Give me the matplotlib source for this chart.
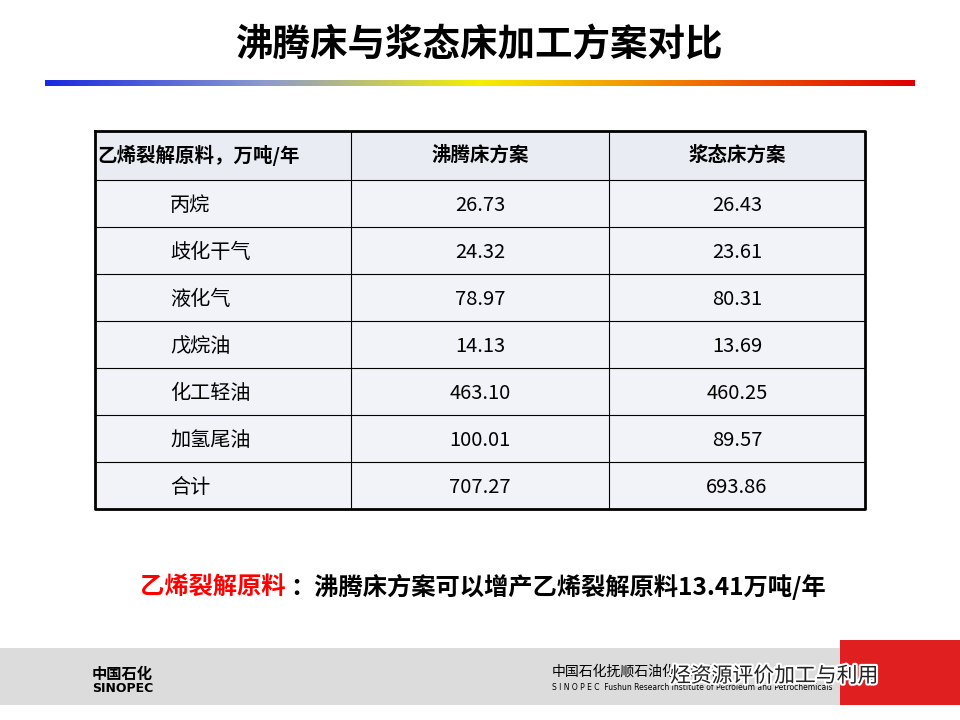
import matplotlib
matplotlib.use("Agg")
import matplotlib.pyplot as plt
import numpy as np
from matplotlib.patches import Rectangle
import matplotlib.patheffects as pe
from matplotlib.colors import LinearSegmentedColormap

plt.rcParams['font.family'] = ['Noto Sans CJK SC', 'DejaVu Sans']

title = "沸腾床与浆态床加工方案对比"
headers = ["乙烯裂解原料，万吨/年", "沸腾床方案", "浆态床方案"]
items = ["丙烷", "歧化干气", "液化气", "戊烷油", "化工轻油", "加氢尾油", "合计"]
boiling = ["26.73", "24.32", "78.97", "14.13", "463.10", "100.01", "707.27"]
slurry = ["26.43", "23.61", "80.31", "13.69", "460.25", "89.57", "693.86"]

fig = plt.figure(figsize=(9.6, 7.2), dpi=100)
ax = fig.add_axes([0, 0, 1, 1])
ax.set_xlim(0, 960); ax.set_ylim(720, 0); ax.axis('off')

ax.text(480, 45, title, ha='center', va='center', fontsize=27, fontweight='bold')
cm = LinearSegmentedColormap.from_list('g', ['#1a2ae0', '#8c9ad0', '#f5f000', '#f07000', '#e00000'])
grad = np.linspace(0, 1, 300).reshape(1, -1)
ax.imshow(grad, cmap=cm, extent=[45, 915, 86, 80], aspect='auto')

x0, x1, x2, x3 = 95, 351, 609, 865
ytop, hh, rh = 131, 49, 47
ax.add_patch(Rectangle((x0, ytop), x3 - x0, hh, facecolor='#e9ecf3', edgecolor='none'))
ax.add_patch(Rectangle((x0, ytop + hh), x3 - x0, rh * len(items), facecolor='#f1f3f8', edgecolor='none'))
ybot = ytop + hh + rh * len(items)
for y in [ytop + hh + rh * i for i in range(len(items))]:
    ax.plot([x0, x3], [y, y], color='black', lw=0.8)
ax.plot([x0, x3, x3, x0, x0], [ytop, ytop, ybot, ybot, ytop], color='black', lw=2)
for x in (x1, x2):
    ax.plot([x, x], [ytop, ybot], color='black', lw=0.8)
hy = ytop + hh / 2
ax.text(x0 + 2, hy, headers[0], ha='left', va='center', fontsize=14, fontweight='bold')
ax.text((x1 + x2) / 2, hy, headers[1], ha='center', va='center', fontsize=14, fontweight='bold')
ax.text((x2 + x3) / 2, hy, headers[2], ha='center', va='center', fontsize=14, fontweight='bold')
for i, (a, b, c) in enumerate(zip(items, boiling, slurry)):
    y = ytop + hh + rh * i + rh / 2 + 2
    ax.text(170, y, a, ha='left', va='center', fontsize=14.5)
    ax.text((x1 + x2) / 2, y, b, ha='center', va='center', fontsize=14.5)
    ax.text((x2 + x3) / 2, y, c, ha='center', va='center', fontsize=14.5)

ax.text(140, 587, "乙烯裂解原料", color='#ff0000', ha='left', va='center', fontsize=17.5, fontweight='bold')
ax.text(290, 587, "：沸腾床方案可以增产乙烯裂解原料13.41万吨/年", color='black', ha='left', va='center', fontsize=17.5, fontweight='bold')

ax.add_patch(Rectangle((0, 648), 960, 72, facecolor='#dcdcdc', edgecolor='none'))
ax.add_patch(Rectangle((840, 640), 120, 80, facecolor='#e02020', edgecolor='none'))
ax.add_patch(Rectangle((0, 705), 960, 15, facecolor='white', edgecolor='none'))
ax.text(92, 674, "中国石化", fontsize=11, fontweight='bold', va='center')
ax.text(92, 688, "SINOPEC", fontsize=9, fontweight='bold', va='center', family='DejaVu Sans')
ax.text(552, 672, "中国石化抚顺石油化工研究院", fontsize=10, va='center')
ax.text(552, 688, "S I N O P E C  Fushun Research Institute of Petroleum and Petrochemicals", fontsize=5.5, va='center', family='DejaVu Sans')
ax.text(670, 676, "烃资源评价加工与利用", fontsize=15, va='center', color='#222222',
        path_effects=[pe.withStroke(linewidth=3, foreground='white')])

fig.savefig("out.png", dpi=100)
